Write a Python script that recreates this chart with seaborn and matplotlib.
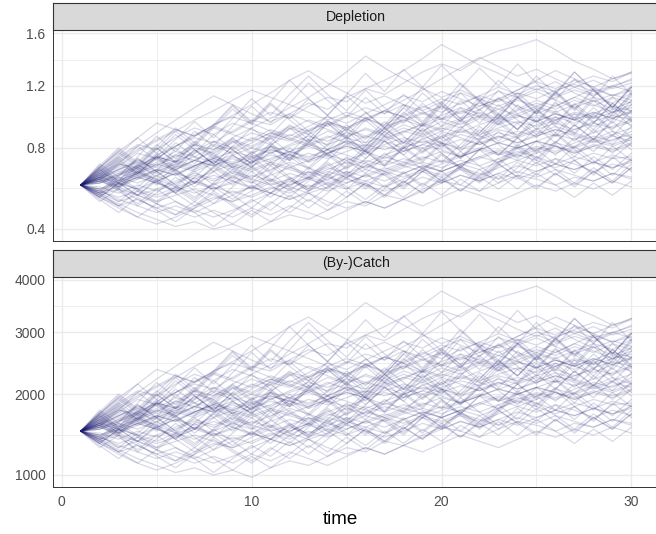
import numpy as np
import pandas as pd
import matplotlib
matplotlib.use("Agg")
import matplotlib.pyplot as plt
from matplotlib.ticker import FixedLocator
import seaborn as sns

# ---------------- data ----------------
time = list(range(1, 31))
facet_titles = ["Depletion", "(By-)Catch"]
catch_per_depletion = 2500  # (By-)Catch panel = Depletion * 2500 (same shapes)

traj = [
 [0.60,0.66,0.71,0.69,0.76,0.81,0.86,0.83,0.90,0.97,0.94,1.01,1.08,1.04,1.12,1.18,1.14,1.22,1.30,1.36,1.31,1.40,1.46,1.50,1.55,1.47,1.38,1.32,1.25,1.29],
 [0.60,0.55,0.51,0.47,0.44,0.41,0.43,0.40,0.42,0.39,0.43,0.46,0.44,0.48,0.52,0.50,0.55,0.53,0.58,0.62,0.60,0.57,0.61,0.65,0.63,0.60,0.64,0.62,0.66,0.64],
 [0.60,0.64,0.70,0.77,0.74,0.81,0.88,0.93,0.89,0.96,1.02,0.98,1.06,1.12,1.09,1.18,1.24,1.31,1.40,1.51,1.43,1.35,1.29,1.22,1.17,1.23,1.15,1.09,1.14,1.10],
 [0.60,0.63,0.59,0.64,0.68,0.65,0.70,0.74,0.71,0.76,0.73,0.78,0.82,0.79,0.84,0.81,0.86,0.90,0.87,0.92,0.89,0.94,0.98,0.95,1.00,0.97,1.02,0.99,1.04,1.01],
 [0.60,0.57,0.61,0.58,0.55,0.59,0.62,0.58,0.61,0.65,0.62,0.66,0.63,0.60,0.64,0.68,0.65,0.69,0.72,0.69,0.73,0.70,0.74,0.78,0.75,0.71,0.75,0.72,0.76,0.73],
 [0.60,0.68,0.75,0.82,0.79,0.86,0.92,0.88,0.95,0.91,0.87,0.93,0.90,0.96,0.92,0.98,1.03,0.99,0.94,1.00,1.05,1.01,0.97,1.03,1.08,1.04,1.10,1.06,1.12,1.08],
 [0.60,0.54,0.50,0.53,0.49,0.46,0.50,0.54,0.52,0.57,0.61,0.58,0.63,0.67,0.64,0.70,0.75,0.72,0.78,0.83,0.80,0.86,0.91,0.88,0.94,0.99,0.95,1.01,1.06,1.03],
 [0.60,0.65,0.62,0.67,0.72,0.78,0.75,0.81,0.77,0.83,0.89,0.85,0.91,0.96,0.92,0.98,0.94,1.00,1.06,1.02,1.08,1.13,1.09,1.15,1.11,1.17,1.21,1.16,1.20,1.24],
 [0.60,0.62,0.58,0.55,0.58,0.62,0.66,0.63,0.67,0.64,0.68,0.72,0.69,0.65,0.69,0.73,0.70,0.74,0.71,0.67,0.71,0.75,0.79,0.76,0.80,0.77,0.81,0.85,0.82,0.86],
 [0.60,0.67,0.73,0.79,0.85,0.91,0.87,0.94,0.99,0.95,0.90,0.86,0.82,0.87,0.83,0.79,0.84,0.80,0.85,0.90,0.86,0.82,0.87,0.83,0.88,0.93,0.89,0.85,0.90,0.86],
 [0.60,0.56,0.52,0.55,0.51,0.48,0.45,0.48,0.45,0.49,0.46,0.50,0.47,0.44,0.48,0.52,0.49,0.53,0.50,0.54,0.58,0.55,0.52,0.56,0.60,0.57,0.61,0.58,0.62,0.59],
 [0.60,0.61,0.66,0.63,0.68,0.65,0.70,0.75,0.72,0.77,0.81,0.78,0.74,0.79,0.84,0.80,0.85,0.90,0.94,0.90,0.95,1.00,0.96,1.01,1.06,1.02,1.07,1.12,1.08,1.15],
 [0.60,0.66,0.72,0.78,0.84,0.90,0.97,1.03,1.10,1.17,1.12,1.07,1.02,0.97,1.02,0.98,0.93,0.97,1.02,0.98,1.03,0.99,0.95,1.00,0.96,1.01,0.97,0.93,0.98,0.94],
 [0.60,0.58,0.62,0.66,0.63,0.59,0.56,0.60,0.64,0.61,0.65,0.69,0.66,0.70,0.74,0.71,0.67,0.71,0.75,0.72,0.76,0.80,0.77,0.73,0.77,0.81,0.78,0.82,0.79,0.83],
 [0.60,0.63,0.68,0.73,0.70,0.76,0.82,0.79,0.86,0.92,0.98,1.05,1.12,1.20,1.30,1.42,1.33,1.25,1.18,1.12,1.17,1.11,1.06,1.11,1.16,1.10,1.05,1.10,1.04,1.09],
 [0.60,0.57,0.53,0.50,0.47,0.50,0.47,0.51,0.55,0.59,0.56,0.60,0.64,0.61,0.65,0.62,0.66,0.70,0.67,0.71,0.75,0.79,0.76,0.80,0.84,0.81,0.77,0.81,0.85,0.88],
 [0.60,0.64,0.61,0.66,0.71,0.68,0.73,0.79,0.85,0.81,0.87,0.84,0.90,0.95,0.91,0.97,1.03,0.99,1.05,1.11,1.07,1.13,1.19,1.14,1.20,1.16,1.22,1.27,1.23,1.30],
 [0.60,0.62,0.65,0.69,0.66,0.70,0.67,0.71,0.68,0.72,0.76,0.73,0.77,0.74,0.78,0.82,0.79,0.83,0.80,0.84,0.88,0.85,0.89,0.86,0.90,0.87,0.91,0.95,0.92,0.96],
 [0.60,0.63,0.60,0.64,0.61,0.58,0.62,0.59,0.56,0.59,0.56,0.53,0.56,0.52,0.49,0.52,0.49,0.53,0.57,0.61,0.65,0.62,0.66,0.70,0.67,0.71,0.68,0.72,0.69,0.73],
 [0.60,0.65,0.71,0.68,0.74,0.81,0.87,0.94,1.00,1.07,1.15,1.24,1.31,1.22,1.15,1.08,1.13,1.07,1.01,1.06,1.01,1.06,1.11,1.06,1.01,1.06,1.12,1.07,1.02,1.07],
 [0.60,0.59,0.56,0.60,0.57,0.61,0.65,0.62,0.66,0.63,0.60,0.63,0.67,0.64,0.61,0.65,0.69,0.66,0.70,0.67,0.71,0.68,0.72,0.76,0.73,0.69,0.73,0.77,0.74,0.75],
 [0.60,0.62,0.59,0.63,0.67,0.71,0.68,0.72,0.69,0.74,0.79,0.76,0.81,0.77,0.82,0.87,0.84,0.89,0.95,0.91,0.97,1.02,0.98,1.04,1.10,1.06,1.12,1.18,1.13,1.19],
 [0.60,0.56,0.59,0.55,0.52,0.55,0.58,0.55,0.52,0.55,0.59,0.56,0.60,0.57,0.61,0.65,0.62,0.66,0.70,0.67,0.71,0.75,0.72,0.77,0.81,0.78,0.83,0.87,0.84,0.90],
 [0.60,0.69,0.78,0.86,0.95,0.91,0.87,0.92,0.88,0.84,0.89,0.85,0.81,0.86,0.91,0.87,0.92,0.97,0.93,0.98,0.94,0.99,1.04,1.00,0.96,1.01,0.97,1.02,0.98,1.03],
 [0.60,0.61,0.64,0.61,0.65,0.69,0.73,0.70,0.74,0.70,0.74,0.78,0.75,0.79,0.76,0.72,0.76,0.80,0.84,0.81,0.85,0.82,0.86,0.90,0.87,0.91,0.88,0.84,0.88,0.92],
 [0.60,0.64,0.69,0.66,0.71,0.76,0.73,0.78,0.84,0.80,0.86,0.92,0.88,0.94,1.00,0.96,1.03,1.10,1.17,1.25,1.33,1.41,1.34,1.27,1.32,1.25,1.19,1.24,1.18,1.22],
 [0.60,0.55,0.58,0.53,0.49,0.52,0.48,0.45,0.48,0.52,0.56,0.53,0.57,0.61,0.58,0.62,0.59,0.63,0.67,0.64,0.68,0.65,0.69,0.73,0.70,0.74,0.71,0.67,0.71,0.68],
 [0.60,0.66,0.63,0.69,0.75,0.72,0.78,0.84,0.80,0.86,0.82,0.88,0.84,0.90,0.86,0.92,0.88,0.94,0.90,0.96,0.92,0.98,0.94,0.99,1.05,1.01,0.97,1.02,0.98,1.02],
 [0.60,0.63,0.67,0.64,0.68,0.72,0.69,0.73,0.70,0.67,0.71,0.68,0.65,0.69,0.66,0.70,0.67,0.64,0.68,0.65,0.69,0.66,0.63,0.67,0.64,0.68,0.65,0.62,0.66,0.63],
 [0.60,0.58,0.61,0.65,0.62,0.66,0.63,0.67,0.71,0.68,0.72,0.76,0.73,0.77,0.81,0.78,0.82,0.86,0.83,0.87,0.91,0.88,0.92,0.96,0.93,0.97,1.01,0.98,1.02,1.05],
 [0.60,0.62,0.66,0.70,0.67,0.71,0.75,0.72,0.76,0.80,0.77,0.81,0.85,0.82,0.86,0.83,0.87,0.92,0.88,0.93,0.98,1.04,1.10,1.17,1.24,1.31,1.25,1.19,1.13,1.17],
 [0.60,0.56,0.60,0.64,0.61,0.57,0.61,0.58,0.62,0.59,0.63,0.60,0.64,0.68,0.72,0.69,0.73,0.70,0.74,0.78,0.75,0.79,0.83,0.80,0.84,0.88,0.85,0.89,0.93,0.97],
 [0.60,0.67,0.74,0.81,0.89,0.97,1.05,1.13,1.07,1.01,0.96,1.01,0.96,0.91,0.87,0.91,0.87,0.83,0.87,0.83,0.79,0.83,0.87,0.83,0.87,0.91,0.87,0.83,0.87,0.84],
 [0.60,0.64,0.61,0.58,0.62,0.66,0.70,0.74,0.71,0.75,0.72,0.69,0.73,0.77,0.81,0.78,0.74,0.78,0.82,0.86,0.90,0.87,0.83,0.87,0.91,0.95,0.91,0.96,1.00,0.97],
 [0.60,0.57,0.54,0.57,0.54,0.57,0.61,0.65,0.62,0.58,0.62,0.59,0.56,0.59,0.63,0.60,0.57,0.60,0.64,0.61,0.65,0.62,0.66,0.63,0.67,0.71,0.68,0.72,0.69,0.72],
 [0.60,0.63,0.68,0.65,0.70,0.75,0.80,0.77,0.83,0.89,0.85,0.91,0.97,0.93,0.99,1.05,1.01,1.07,1.03,1.09,1.15,1.10,1.16,1.12,1.18,1.13,1.19,1.14,1.20,1.16],
 [0.60,0.54,0.49,0.45,0.42,0.45,0.49,0.53,0.57,0.54,0.58,0.62,0.59,0.63,0.67,0.64,0.68,0.72,0.69,0.73,0.70,0.74,0.78,0.75,0.79,0.83,0.80,0.84,0.81,0.85],
 [0.60,0.65,0.70,0.67,0.63,0.68,0.73,0.70,0.75,0.72,0.77,0.82,0.87,0.84,0.89,0.86,0.91,0.96,1.01,0.97,1.02,1.08,1.04,1.10,1.06,1.12,1.17,1.13,1.19,1.25],
 [0.60,0.64,0.68,0.72,0.69,0.73,0.70,0.74,0.78,0.75,0.79,0.76,0.72,0.76,0.73,0.77,0.81,0.78,0.82,0.79,0.75,0.79,0.83,0.80,0.84,0.81,0.77,0.81,0.78,0.82],
 [0.60,0.61,0.65,0.70,0.75,0.72,0.77,0.82,0.79,0.85,0.91,0.87,0.93,0.99,0.95,1.01,1.07,1.13,1.09,1.16,1.11,1.06,1.11,1.17,1.23,1.18,1.24,1.19,1.25,1.30],
 [0.60,0.70,0.62,0.74,0.67,0.80,0.71,0.84,0.76,0.69,0.81,0.92,0.83,0.95,0.86,0.78,0.90,1.02,0.93,1.06,0.96,1.10,1.00,0.91,1.04,0.95,1.08,0.98,1.12,1.02],
 [0.60,0.52,0.58,0.50,0.56,0.64,0.57,0.51,0.59,0.67,0.60,0.54,0.62,0.71,0.63,0.72,0.65,0.58,0.67,0.76,0.68,0.61,0.70,0.80,0.71,0.82,0.73,0.65,0.75,0.67],
 [0.60,0.68,0.77,0.69,0.79,0.90,0.81,0.92,1.04,0.94,1.07,0.97,0.88,1.00,1.13,1.02,0.92,1.05,0.95,1.08,0.98,0.89,1.01,0.91,1.03,1.16,1.05,0.95,1.08,0.98],
 [0.60,0.55,0.63,0.57,0.65,0.59,0.53,0.61,0.55,0.49,0.56,0.64,0.58,0.66,0.75,0.68,0.77,0.70,0.80,0.72,0.82,0.93,0.84,0.95,0.86,0.97,0.88,1.00,0.90,0.81],
 [0.60,0.66,0.59,0.67,0.76,0.68,0.61,0.70,0.63,0.72,0.82,0.74,0.84,0.76,0.68,0.78,0.70,0.80,0.91,0.82,0.74,0.84,0.76,0.86,0.78,0.89,0.80,0.91,0.82,0.93],
 [0.60,0.71,0.64,0.75,0.87,0.78,0.90,0.81,0.93,1.06,0.95,1.08,1.22,1.10,0.99,1.12,1.01,1.14,1.03,0.93,1.05,0.95,1.07,0.97,0.88,0.99,0.89,1.01,0.91,1.03],
 [0.60,0.53,0.47,0.54,0.48,0.43,0.49,0.56,0.50,0.45,0.51,0.58,0.52,0.59,0.67,0.60,0.54,0.61,0.69,0.62,0.70,0.63,0.71,0.64,0.72,0.65,0.73,0.66,0.74,0.83],
 [0.60,0.65,0.74,0.66,0.75,0.67,0.77,0.88,0.79,0.71,0.81,0.73,0.83,0.95,0.85,0.97,0.87,0.99,0.89,1.01,1.15,1.03,1.17,1.05,0.95,1.08,0.97,1.10,0.99,1.13],
 [0.60,0.56,0.64,0.58,0.52,0.59,0.67,0.60,0.68,0.61,0.70,0.63,0.57,0.65,0.58,0.66,0.59,0.67,0.60,0.68,0.78,0.70,0.63,0.72,0.65,0.74,0.66,0.75,0.68,0.77],
 [0.60,0.69,0.62,0.71,0.64,0.73,0.83,0.75,0.86,0.77,0.88,1.00,0.90,0.81,0.92,0.83,0.94,1.07,0.96,1.09,0.98,1.12,1.01,1.15,1.04,0.94,1.07,0.96,0.87,0.99],
 [0.60,0.54,0.61,0.55,0.62,0.56,0.50,0.57,0.51,0.46,0.52,0.47,0.53,0.48,0.54,0.61,0.55,0.62,0.56,0.63,0.57,0.64,0.58,0.65,0.59,0.66,0.60,0.67,0.61,0.69],
 [0.60,0.67,0.76,0.86,0.77,0.88,0.79,0.71,0.81,0.73,0.66,0.75,0.68,0.77,0.69,0.79,0.90,0.81,0.92,0.83,0.75,0.85,0.97,0.87,0.99,0.89,1.01,0.91,1.03,0.93],
 [0.60,0.64,0.58,0.66,0.75,0.85,0.96,0.86,0.98,1.11,1.00,1.14,1.27,1.14,1.03,1.17,1.05,0.95,1.08,0.97,1.10,0.99,1.12,1.01,0.91,1.03,0.93,1.05,0.95,1.07],
 [0.60,0.57,0.65,0.74,0.67,0.60,0.68,0.77,0.69,0.62,0.56,0.63,0.57,0.64,0.73,0.66,0.75,0.85,0.77,0.87,0.78,0.89,1.01,0.91,1.03,0.93,0.84,0.95,1.08,0.97],
 [0.60,0.70,0.80,0.72,0.82,0.74,0.84,0.76,0.69,0.78,0.70,0.80,0.72,0.82,0.94,0.85,0.96,0.87,0.78,0.89,0.80,0.91,0.82,0.74,0.84,0.76,0.86,0.78,0.88,0.79],
 [0.60,0.63,0.57,0.51,0.58,0.52,0.47,0.41,0.47,0.53,0.48,0.55,0.49,0.56,0.64,0.58,0.66,0.59,0.67,0.61,0.69,0.62,0.71,0.64,0.58,0.66,0.59,0.67,0.61,0.69],
 [0.60,0.68,0.61,0.70,0.80,0.72,0.82,0.93,1.06,0.95,1.08,0.98,1.11,1.00,1.14,1.29,1.16,1.32,1.19,1.35,1.21,1.09,1.24,1.12,1.01,1.15,1.03,1.17,1.05,1.19],
 [0.60,0.55,0.50,0.57,0.51,0.58,0.52,0.59,0.53,0.60,0.54,0.61,0.69,0.62,0.70,0.79,0.71,0.81,0.73,0.83,0.74,0.84,0.76,0.86,0.97,0.87,0.99,0.89,1.01,1.14],
 [0.60,0.66,0.75,0.68,0.61,0.70,0.79,0.71,0.64,0.73,0.83,0.74,0.85,0.76,0.87,0.78,0.70,0.80,0.72,0.82,0.93,0.84,0.95,0.86,0.77,0.88,0.79,0.71,0.81,0.73],
 [0.60,0.69,0.79,0.71,0.81,0.92,0.83,0.94,1.07,0.96,1.09,1.24,1.11,1.00,0.90,1.02,0.92,1.05,1.19,1.07,1.22,1.10,0.99,1.12,1.01,1.15,1.30,1.17,1.05,1.20],
 [0.60,0.56,0.50,0.45,0.51,0.46,0.52,0.47,0.42,0.48,0.43,0.49,0.56,0.50,0.57,0.51,0.58,0.66,0.59,0.67,0.60,0.68,0.61,0.69,0.79,0.71,0.81,0.73,0.65,0.74],
 [0.60,0.65,0.59,0.67,0.60,0.68,0.61,0.69,0.79,0.71,0.81,0.73,0.83,0.75,0.85,0.76,0.87,0.78,0.89,0.80,0.91,1.04,0.94,1.07,0.96,1.09,0.98,1.12,1.01,1.15],
 [0.60,0.62,0.71,0.81,0.73,0.83,0.75,0.67,0.76,0.69,0.78,0.70,0.63,0.72,0.65,0.74,0.84,0.76,0.86,0.77,0.69,0.79,0.71,0.81,0.73,0.83,0.94,0.85,0.96,0.86],
 [0.60,0.68,0.61,0.55,0.63,0.56,0.64,0.73,0.66,0.75,0.67,0.77,0.69,0.79,0.71,0.81,0.92,0.83,0.94,0.85,0.97,0.87,0.99,1.13,1.02,1.16,1.04,1.18,1.06,0.96],
 [0.60,0.54,0.61,0.69,0.62,0.56,0.64,0.57,0.65,0.58,0.66,0.59,0.67,0.60,0.54,0.61,0.55,0.62,0.56,0.64,0.57,0.65,0.74,0.66,0.75,0.68,0.61,0.69,0.62,0.71],
 [0.60,0.67,0.60,0.68,0.77,0.69,0.79,0.71,0.81,0.92,0.83,0.94,0.85,0.97,0.87,0.99,0.89,1.01,1.15,1.04,1.18,1.33,1.20,1.36,1.22,1.10,1.25,1.12,1.27,1.14],
 [0.60,0.63,0.72,0.65,0.74,0.66,0.59,0.67,0.60,0.69,0.62,0.71,0.64,0.73,0.83,0.74,0.84,0.76,0.68,0.77,0.69,0.79,0.90,0.81,0.92,0.83,0.94,0.85,0.97,1.10],
 [0.60,0.58,0.52,0.59,0.67,0.60,0.54,0.61,0.70,0.63,0.72,0.64,0.58,0.66,0.59,0.53,0.60,0.54,0.61,0.55,0.63,0.57,0.65,0.58,0.66,0.60,0.54,0.61,0.55,0.62],
 [0.60,0.69,0.78,0.70,0.80,0.72,0.82,0.74,0.84,0.76,0.86,0.77,0.88,0.79,0.90,0.81,0.92,0.83,0.94,1.07,0.96,1.09,0.98,1.12,1.27,1.14,1.30,1.17,1.05,1.19],
 [0.60,0.64,0.73,0.66,0.75,0.67,0.61,0.69,0.62,0.70,0.63,0.57,0.64,0.58,0.66,0.59,0.67,0.61,0.69,0.62,0.70,0.64,0.72,0.82,0.74,0.84,0.75,0.86,0.77,0.87],
]

depletion_breaks = [0.4, 0.8, 1.2, 1.6]
catch_breaks = [1000, 2000, 3000, 4000]
x_breaks = [0, 10, 20, 30]
x_minor = [5, 15, 25]

# ---------------- long table ----------------
rows = []
for sim, vals in enumerate(traj):
    for t, v in zip(time, vals):
        rows.append((sim, t, v, v * catch_per_depletion))
df = pd.DataFrame(rows, columns=["sim", "time", "Depletion", "(By-)Catch"])

# ---------------- figure ----------------
sns.set_style("white")
plt.rcParams["font.family"] = ["Liberation Sans", "DejaVu Sans"]

W, H = 656, 534
fig = plt.figure(figsize=(W / 100, H / 100), dpi=100)

def frac(x0, y0, x1, y1):
    return [x0 / W, 1 - y1 / H, (x1 - x0) / W, (y1 - y0) / H]

px_left, px_right = 53.1, 659.0
panels = [(30.0, 241.0), (276.5, 487.0)]
strip_h = 27.0

line_col = "#191970"
grid_col = "#EBEBEB"
border_col = "#333333"

def sqrt_mid(a, b):
    return ((np.sqrt(a) + np.sqrt(b)) / 2) ** 2

for i, (title, breaks) in enumerate(zip(facet_titles, [depletion_breaks, catch_breaks])):
    top, bot = panels[i]
    ax = fig.add_axes(frac(px_left, top, px_right, bot))
    sns.lineplot(data=df, x="time", y=title, units="sim", estimator=None,
                 color=line_col, alpha=0.16, linewidth=0.9, ax=ax, legend=False)
    ax.set_yscale("function", functions=(np.sqrt, np.square))
    vals = df[title].values
    lo, hi = np.sqrt(vals.min()), np.sqrt(vals.max())
    pad = 0.05 * (hi - lo)
    ax.set_ylim((lo - pad) ** 2, (hi + pad) ** 2)
    tmin, tmax = min(time), max(time)
    xpad = 0.05 * (tmax - tmin)
    ax.set_xlim(tmin - xpad, tmax + xpad)

    ax.yaxis.set_major_locator(FixedLocator(breaks))
    ax.yaxis.set_minor_locator(FixedLocator([sqrt_mid(a, b) for a, b in zip(breaks[:-1], breaks[1:])]))
    ax.xaxis.set_major_locator(FixedLocator(x_breaks))
    ax.xaxis.set_minor_locator(FixedLocator(x_minor))
    ax.set_yticklabels([f"{b:g}" for b in breaks])

    ax.set_axisbelow(True)
    ax.grid(which="major", color=grid_col, linewidth=1.0)
    ax.grid(which="minor", color=grid_col, linewidth=0.6)
    for s in ax.spines.values():
        s.set_color(border_col)
        s.set_linewidth(0.7)
    ax.tick_params(axis="both", which="major", length=3.5, width=0.8, color=border_col,
                   labelcolor="#4D4D4D", labelsize=10, pad=2)
    ax.tick_params(which="minor", length=0)
    ax.set_xlabel("")
    ax.set_ylabel("")
    if i == 0:
        ax.tick_params(axis="x", which="major", length=0, labelbottom=False)
    ax.set_facecolor("white")

    # facet strip
    sax = fig.add_axes(frac(px_left, top - strip_h, px_right, top))
    sax.set_facecolor("#D9D9D9")
    sax.set_xticks([])
    sax.set_yticks([])
    for s in sax.spines.values():
        s.set_color(border_col)
        s.set_linewidth(0.8)
    sax.text(0.5, 0.5, title, ha="center", va="center", fontsize=10.2,
             color="#1A1A1A", transform=sax.transAxes)

fig.text(340 / W, 1 - 520 / H, "time", ha="center", va="center", fontsize=13.5, color="black")

fig.savefig("out.png", dpi=100)
